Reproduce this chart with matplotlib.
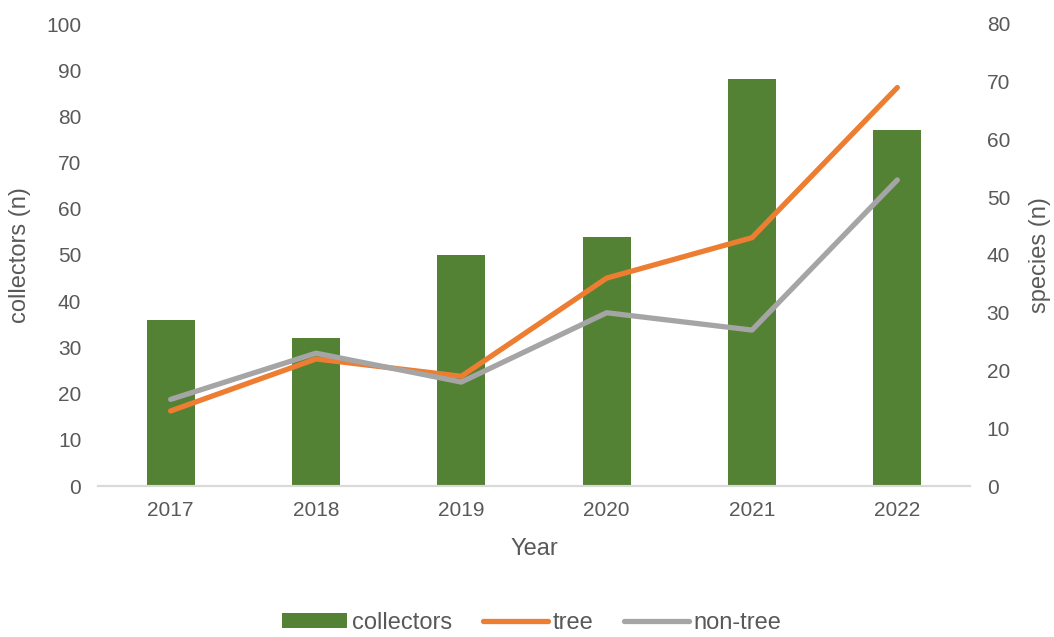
import matplotlib
matplotlib.use("Agg")
import matplotlib.pyplot as plt
import numpy as np

years = ["2017", "2018", "2019", "2020", "2021", "2022"]
collectors = [36, 32, 50, 54, 88, 77]
tree = [13, 22, 19, 36, 43, 69]
non_tree = [15, 23, 18, 30, 27, 53]

plt.rcParams['font.family'] = ['Liberation Sans', 'DejaVu Sans']
txt = '#595959'

fig = plt.figure(figsize=(10.54, 6.37), dpi=100)
L, R, T, B = 98, 970, 24, 486
ax = fig.add_axes([L / 1054, 1 - B / 637, (R - L) / 1054, (B - T) / 637])
x = np.arange(len(years))
bars = ax.bar(x, collectors, width=0.33, color='#548235', label='collectors', zorder=2)
ax.set_xlim(-0.5, len(years) - 0.5)
ax.set_ylim(0, 100)
ax.set_yticks(np.arange(0, 101, 10))
ax.set_xticks(x)
ax.set_xticklabels(years)
ax.set_ylabel('collectors (n)', fontsize=17, color=txt, va='center', ha='center')
ax.yaxis.set_label_coords((20 - L) / (R - L), 0.5)
ax.set_xlabel('Year', fontsize=17, color=txt, va='center', ha='center')
ax.xaxis.set_label_coords(0.5, (B - 549) / (B - T))

ax2 = ax.twinx()
l1, = ax2.plot(x, tree, color='#ED7D31', lw=3.8, solid_capstyle='round', label='tree', zorder=3)
l2, = ax2.plot(x, non_tree, color='#A5A5A5', lw=3.8, solid_capstyle='round', label='non-tree', zorder=3)
ax2.set_ylim(0, 80)
ax2.set_yticks(np.arange(0, 81, 10))
ax2.set_ylabel('species (n)', fontsize=17, color=txt, va='center', ha='center')
ax2.yaxis.set_label_coords((1040 - L) / (R - L), 0.5)

for a in (ax, ax2):
    for s in ('top', 'left', 'right'):
        a.spines[s].set_visible(False)
    a.spines['bottom'].set_color('#D9D9D9')
    a.spines['bottom'].set_linewidth(1.5)
    a.tick_params(length=0, labelsize=15, colors=txt, pad=12)
ax.tick_params(axis='x', pad=11)

fig.legend(handles=[bars, l1, l2], loc='center', bbox_to_anchor=(532 / 1054, 1 - 623 / 637),
           ncol=3, frameon=False, fontsize=17, labelcolor=txt,
           handlelength=2.75, handleheight=0.6, handletextpad=0.2, columnspacing=1.3)

fig.savefig('out.png', dpi=100)
